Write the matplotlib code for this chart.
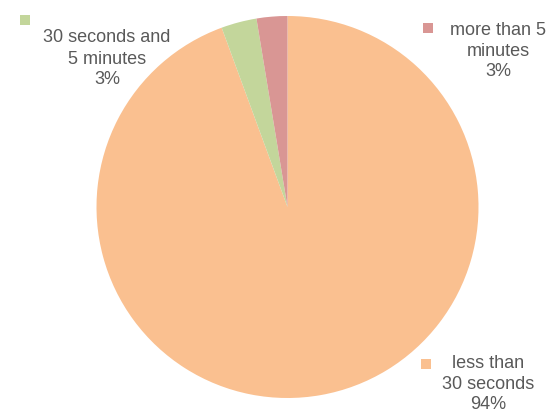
import matplotlib
matplotlib.use("Agg")
import matplotlib.pyplot as plt
from matplotlib.patches import Rectangle

# ---- data ----
categories = ["less than 30 seconds", "30 seconds and 5 minutes", "more than 5 minutes"]
label_lines = [["less than", "30 seconds"], ["", "30 seconds and", "5 minutes"], ["more than 5", "minutes"]]
values = [94.4, 3.0, 2.6]
colors = ["#FAC090", "#C3D69B", "#D99694"]

W, H = 549, 414
fig = plt.figure(figsize=(W / 100, H / 100), dpi=100)
ax = fig.add_axes([0, 0, 1, 1])

cx, cy, r = 287.5, H - 208, 191
ax.pie(values, colors=colors, startangle=90, counterclock=False,
       center=(cx, cy), radius=r, wedgeprops=dict(linewidth=0))
ax.set_xlim(0, W)
ax.set_ylim(0, H)
ax.set_aspect("auto")
ax.axis("off")

total = sum(values)
pcts = [f"{round(v / total * 100)}%" for v in values]

# label layout (pixel positions, top-left origin)
label_pos = [(488, 364), (107, 17), (498, 30)]   # center x, first line center y
marker_pos = [(426, 365), (25, 21), (428, 29)]
line_h = [20.5, 21, 21]
font = dict(family=["Liberation Sans", "DejaVu Sans"], size=13, color="#595959")

for lines, pct, (lx, ly), (mx, my), col, lh in zip(label_lines, pcts, label_pos, marker_pos, colors, line_h):
    all_lines = lines + [pct]
    for i, t in enumerate(all_lines):
        if t:
            ax.text(lx, H - (ly + i * lh), t, ha="center", va="center", **font)
    ax.add_patch(Rectangle((mx - 5, H - my - 5), 10, 10, facecolor=col, edgecolor="none"))

fig.savefig("out.png", dpi=100)
